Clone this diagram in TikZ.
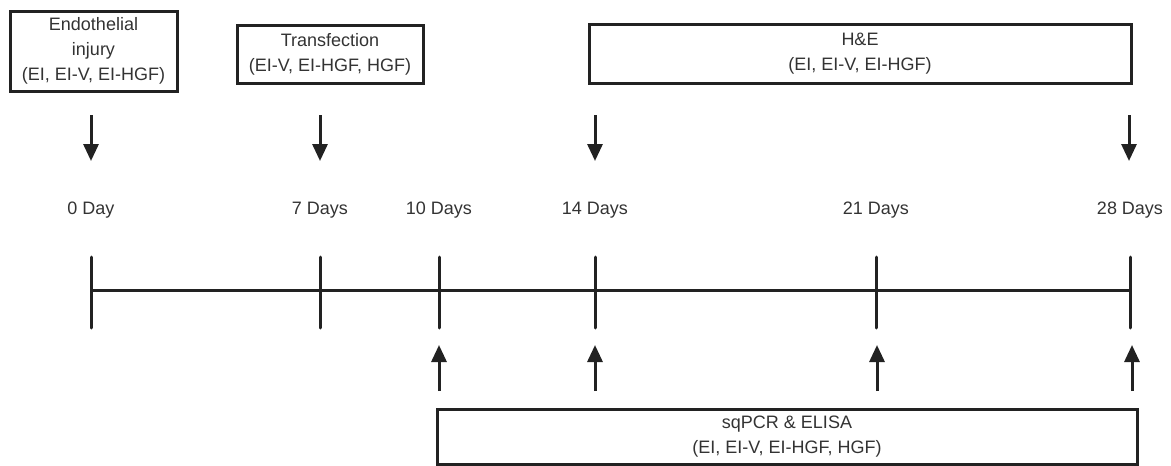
\documentclass[tikz,border=0pt]{standalone}
\usepackage{fontspec}
\setmainfont{Liberation Sans}
\usetikzlibrary{arrows.meta}
\definecolor{ink}{HTML}{222222}
\definecolor{txt}{HTML}{333333}
\begin{document}
\begin{tikzpicture}[x=1pt,y=-1pt,
  every node/.style={font=\fontsize{18}{25}\selectfont, text=txt},
  boxnode/.style={draw=ink, line width=3pt, inner sep=0pt, align=center},
  lbl/.style={inner sep=0pt, anchor=center},
  axis/.style={draw=ink, line width=3pt},
  tick/.style={draw=ink, line width=3pt, line cap=round},
  arr/.style={draw=ink, line width=3pt, -{Triangle[width=15pt,length=17pt]}}]
\useasboundingbox (0,0) rectangle (1171,466);
% boxes
\node[boxnode, minimum width=167pt, minimum height=80pt] (ei) at (93.5,51) {Endothelial\\injury\\(EI, EI-V, EI-HGF)};
\node[boxnode, minimum width=186pt, minimum height=58pt] (tr) at (330,54) {Transfection\\(EI-V, EI-HGF, HGF)};
\node[boxnode, minimum width=542pt, minimum height=59pt] (he) at (860,54) {H\&E\\(EI, EI-V, EI-HGF)};
\node[boxnode, minimum width=700pt, minimum height=55pt] (sq) at (787,437) {sqPCR \& ELISA\\(EI, EI-V, EI-HGF, HGF)};
% day labels
\foreach \x/\n/\t in {91/d0/0 Day, 320/d7/7 Days, 439/d10/10 Days, 595/d14/14 Days, 876/d21/21 Days, 1130/d28/28 Days}{
  \node[lbl] (\n) at (\x,210) {\t};
  \coordinate (\n T) at (\x,257);
  \coordinate (\n B) at (\x,328);
  \coordinate (\n M) at (\x,290);
}
% axis
\draw[axis] (d0M) -- (d28M);
\foreach \n in {d0,d7,d10,d14,d21,d28}{
  \draw[tick] (\n T) -- (\n B);
}
% down arrows
\foreach \x/\n in {91/a0, 320/a7, 595/a14, 1129/a28}{
  \coordinate (\n S) at (\x,115);
  \coordinate (\n E) at (\x,161);
  \draw[arr] (\n S) -- (\n E);
}
% up arrows
\foreach \x/\n in {439/b10, 595/b14, 877/b21, 1132/b28}{
  \coordinate (\n S) at (\x,391);
  \coordinate (\n E) at (\x,345);
  \draw[arr] (\n S) -- (\n E);
}
\end{tikzpicture}
\end{document}
